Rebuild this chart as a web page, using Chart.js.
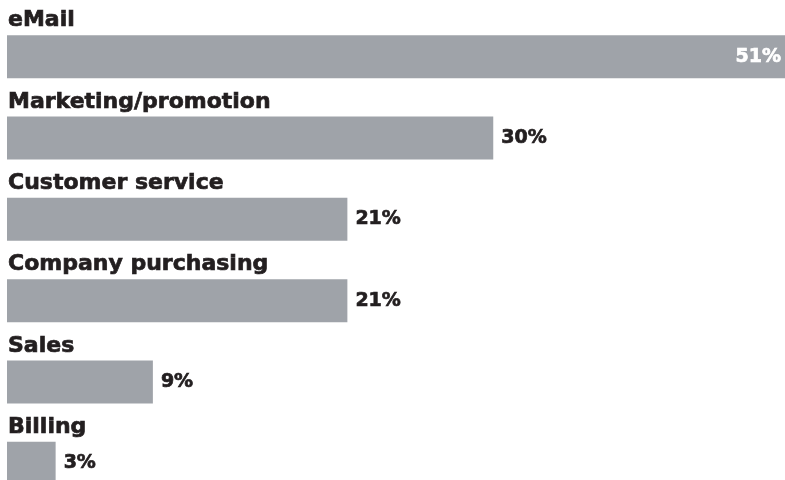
<!DOCTYPE html>
<html>
<head>
<meta charset="utf-8">
<script src="https://cdn.jsdelivr.net/npm/chart.js@4/dist/chart.umd.min.js"></script>
<style>
  html, body { margin: 0; padding: 0; background: #fff; overflow: hidden; }
  #wrap { width: 785px; height: 504px; }
</style>
</head>
<body>
<div id="wrap"><canvas id="barChart"></canvas></div>
<script>
const categories = ['eMail', 'Marketing/promotion', 'Customer service', 'Company purchasing', 'Sales', 'Billing'];
const shares = [51, 30, 21, 21, 9, 3];
const axisMax = 48;

const barColor = '#9fa3a9';
const textColor = '#231f20';
const nameFont = 'bold 22px "DejaVu Sans"';
const valueFont = 'bold 19px "DejaVu Sans"';

// heavier text: fill plus a thin stroke of the same colour
function heavyText(ctx, text, x, y, color) {
    ctx.fillStyle = color;
    ctx.strokeStyle = color;
    ctx.lineWidth = 0.7;
    ctx.fillText(text, x, y);
    ctx.strokeText(text, x, y);
}

// category name above each bar, percentage at its end
const barLabels = {
    id: 'barLabels',
    afterDatasetsDraw(chart) {
        const ctx = chart.ctx;
        const area = chart.chartArea;
        const bars = chart.getDatasetMeta(0).data;
        ctx.save();
        bars.forEach((bar, i) => {
            const top = bar.y - bar.height / 2;
            ctx.font = nameFont;
            ctx.textAlign = 'left';
            ctx.textBaseline = 'alphabetic';
            heavyText(ctx, categories[i], bar.base + 1, top - 9, textColor);

            const text = shares[i] + '%';
            ctx.font = valueFont;
            ctx.textBaseline = 'middle';
            if (bar.x > area.right - 10) {
                ctx.textAlign = 'right';
                heavyText(ctx, text, area.right - 4, bar.y, '#ffffff');
            } else {
                ctx.textAlign = 'left';
                heavyText(ctx, text, bar.x + 8, bar.y, textColor);
            }
        });
        ctx.restore();
    }
};

new Chart(document.getElementById('barChart').getContext('2d'), {
    type: 'bar',
    data: {
        labels: categories,
        datasets: [{
            data: shares,
            backgroundColor: barColor,
            borderWidth: 0,
            categoryPercentage: 1,
            barPercentage: 0.528
        }]
    },
    options: {
        indexAxis: 'y',
        responsive: true,
        maintainAspectRatio: false,
        animation: false,
        layout: { padding: { top: 16, left: 7, right: 0, bottom: 0 } },
        scales: {
            x: { display: false, min: 0, max: axisMax },
            y: { display: false }
        },
        plugins: {
            legend: { display: false },
            tooltip: { enabled: false }
        }
    },
    plugins: [barLabels]
});
</script>
</body>
</html>
